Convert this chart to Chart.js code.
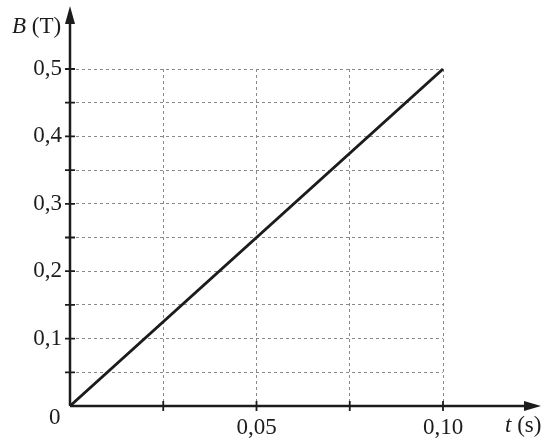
<!DOCTYPE html>
<html>
  <head>
    <title>B(t)</title>
    <meta charset="UTF-8" />
    <script src="https://cdn.jsdelivr.net/npm/chart.js@4"></script>
    <style>
      body { margin: 0; background: #fff; }
      #wrap { width: 555px; height: 443px; }
    </style>
  </head>
  <body>
    <div id="wrap"><canvas id="myChart"></canvas></div>
    <script>
      // data
      var times = [0, 0.10];     // t (s)
      var field = [0, 0.5];      // B (T)
      var xLabelled = [0.05, 0.10];
      var yLabelled = [0.1, 0.2, 0.3, 0.4, 0.5];

      var serif = "'Liberation Serif', 'Times New Roman', serif";
      var ink = "#1c1c1c";
      var fontSize = 23;

      function comma(v, d) {
        return v.toFixed(d).replace(".", ",");
      }
      function hasLabel(list, v) {
        return list.some(function (x) { return Math.abs(x - v) < 1e-9; });
      }

      // axes with arrows, ticks crossing the axes, the "0" and axis titles
      var axesPlugin = {
        id: "axes",
        afterDatasetsDraw: function (chart) {
          var ctx = chart.ctx;
          var xs = chart.scales.x, ys = chart.scales.y;
          var x0 = xs.getPixelForValue(0), y0 = ys.getPixelForValue(0);
          ctx.save();
          ctx.strokeStyle = ink;
          ctx.fillStyle = ink;
          ctx.lineWidth = 2.5;
          ctx.beginPath();
          ctx.moveTo(x0, y0);
          ctx.lineTo(527, y0);
          ctx.moveTo(x0, y0);
          ctx.lineTo(x0, 22);
          ctx.stroke();
          // arrow heads
          ctx.beginPath();
          ctx.moveTo(541, y0);
          ctx.lineTo(524, y0 - 5);
          ctx.lineTo(524, y0 + 5);
          ctx.closePath();
          ctx.fill();
          ctx.beginPath();
          ctx.moveTo(x0, 6);
          ctx.lineTo(x0 - 5, 24);
          ctx.lineTo(x0 + 5, 24);
          ctx.closePath();
          ctx.fill();
          // tick marks
          ctx.lineWidth = 1.8;
          ctx.beginPath();
          ys.ticks.forEach(function (t) {
            if (t.value <= 0) return;
            var p = ys.getPixelForValue(t.value);
            ctx.moveTo(x0 - 5, p);
            ctx.lineTo(x0 + 5, p);
          });
          xs.ticks.forEach(function (t) {
            if (t.value <= 0) return;
            var p = xs.getPixelForValue(t.value);
            ctx.moveTo(p, y0 - 5);
            ctx.lineTo(p, y0 + 5);
          });
          ctx.stroke();
          // texts
          ctx.textBaseline = "middle";
          ctx.textAlign = "left";
          ctx.font = fontSize + "px " + serif;
          ctx.fillText("0", 49, 418);
          ctx.font = "italic " + fontSize + "px " + serif;
          ctx.fillText("B", 12, 27);
          var w = ctx.measureText("B").width;
          ctx.font = fontSize + "px " + serif;
          ctx.fillText(" (T)", 12 + w, 27);
          ctx.font = "italic " + fontSize + "px " + serif;
          ctx.fillText("t", 505, 426);
          w = ctx.measureText("t").width;
          ctx.font = fontSize + "px " + serif;
          ctx.fillText(" (s)", 505 + w, 426);
          ctx.restore();
        }
      };

      var ctx = document.getElementById("myChart").getContext("2d");
      var chart = new Chart(ctx, {
        type: "scatter",
        data: {
          datasets: [
            {
              data: times.map(function (t, i) { return { x: t, y: field[i] }; }),
              showLine: true,
              borderColor: ink,
              borderWidth: 3,
              pointRadius: 0,
              clip: false
            }
          ]
        },
        options: {
          responsive: true,
          maintainAspectRatio: false,
          animation: false,
          layout: { padding: { left: 10, top: 69, right: 112, bottom: 0 } },
          plugins: { legend: { display: false }, tooltip: { enabled: false } },
          scales: {
            x: {
              type: "linear",
              min: 0,
              max: 0.10,
              afterFit: function (s) { s.height = 37; },
              grid: { color: "#8a8a8a", lineWidth: 1, drawTicks: false },
              border: { display: false, dash: [3, 3] },
              ticks: {
                stepSize: 0.025,
                padding: 8,
                color: ink,
                font: { family: serif, size: fontSize },
                callback: function (v) { return hasLabel(xLabelled, v) ? comma(v, 2) : ""; }
              }
            },
            y: {
              type: "linear",
              min: 0,
              max: 0.5,
              afterFit: function (s) { s.width = 60; },
              grid: { color: "#8a8a8a", lineWidth: 1, drawTicks: false },
              border: { display: false, dash: [3, 3] },
              ticks: {
                stepSize: 0.05,
                padding: 8,
                color: ink,
                font: { family: serif, size: fontSize },
                callback: function (v) { return hasLabel(yLabelled, v) ? comma(v, 1) : ""; }
              }
            }
          }
        },
        plugins: [axesPlugin]
      });
    </script>
  </body>
</html>
